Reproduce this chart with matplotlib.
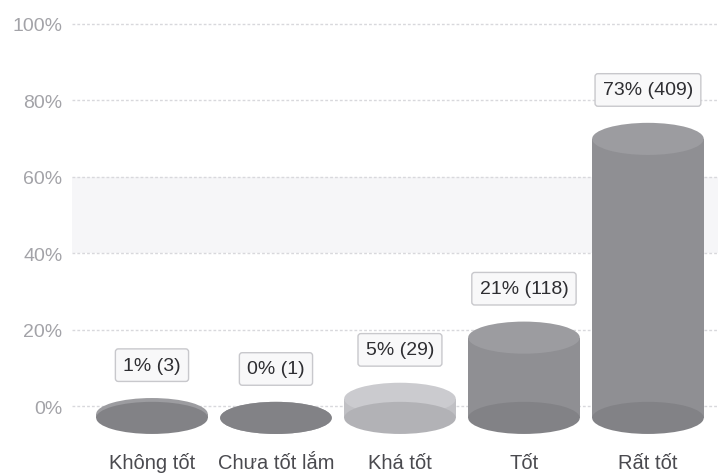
import matplotlib
matplotlib.use("Agg")
import matplotlib.pyplot as plt
from matplotlib.patches import Ellipse, Rectangle

categories = ["Không tốt", "Chưa tốt lắm", "Khá tốt", "Tốt", "Rất tốt"]
percents = [1, 0, 5, 21, 73]
counts = [3, 1, 29, 118, 409]
yticks = [0, 20, 40, 60, 80, 100]

plt.rcParams['font.family'] = ['Liberation Sans', 'DejaVu Sans']

fig = plt.figure(figsize=(7.18, 4.77), dpi=100)
ax = fig.add_axes([72/718, 0, 1 - 72/718, 1])
ax.set_xlim(-0.645, 4.565)
ax.set_ylim(-18.3, 106.5)
for s in ax.spines.values():
    s.set_visible(False)
ax.set_xticks([])
ax.set_yticks(yticks)
ax.set_yticklabels([f"{t}%" for t in yticks], fontsize=14, color='#a3a3a8')
ax.tick_params(axis='y', length=0, pad=7)
ax.axhspan(40, 60, color='#f6f6f8', zorder=0, lw=0)
for t in yticks:
    ax.axhline(t, color='#d8d8dc', lw=1.0, ls=(0, (2, 1.5)), zorder=1)

base = -3.1
w = 0.9
eh = 8.4
for i, (cat, p, c) in enumerate(zip(categories, percents, counts)):
    if i == 2:
        body, top_c, bot_c = '#c0c0c4', '#cbcbcf', '#b2b2b6'
    else:
        body, top_c, bot_c = '#8f8f93', '#9c9ca0', '#828286'
    top = base + p
    ax.add_patch(Rectangle((i - w/2, base), w, p, fc=body, ec='none', zorder=2))
    ax.add_patch(Ellipse((i, top), w, eh, fc=top_c, ec='none', zorder=3))
    ax.add_patch(Ellipse((i, base), w, eh, fc=bot_c, ec='none', zorder=4))
    ax.text(i, top + 12.8, f"{p}% ({c})", ha='center', va='center', fontsize=14,
            color='#2e2e32', zorder=5,
            bbox=dict(boxstyle='round,pad=0.4,rounding_size=0.15', fc='#f8f8f9', ec='#c8c8cc', lw=1))
    ax.text(i, -14.7, cat, ha='center', va='center', fontsize=14.5, color='#4a4a4f')

fig.savefig("out.png", dpi=100, facecolor='white')
